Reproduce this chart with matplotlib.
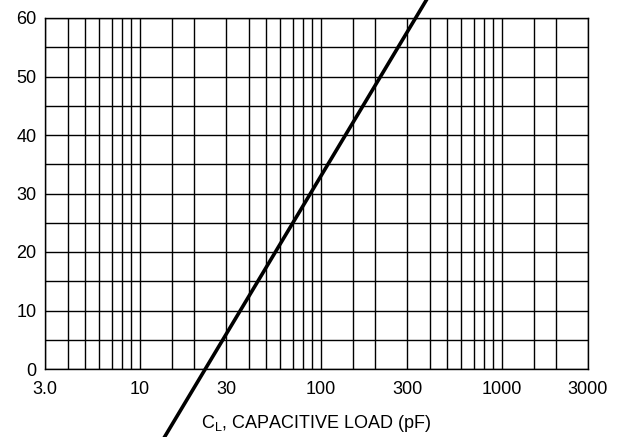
import matplotlib
matplotlib.use("Agg")
import matplotlib.pyplot as plt
from matplotlib import font_manager as fm
import numpy as np

# Data
x_ticks = [3, 10, 30, 100, 300, 1000, 3000]
x_tick_labels = ["3.0", "10", "30", "100", "300", "1000", "3000"]
x_grid = [3, 4, 5, 6, 7, 8, 9, 10, 15, 20, 30, 40, 50, 60, 70, 80, 90,
          100, 150, 200, 300, 400, 500, 600, 700, 800, 900, 1000, 1500, 2000, 3000]
y_ticks = [0, 10, 20, 30, 40, 50, 60]
y_grid = [0, 5, 10, 15, 20, 25, 30, 35, 40, 45, 50, 55, 60]
line_x = [13.5, 400]
line_y = [-12, 64]

names = {f.name for f in fm.fontManager.ttflist}
fam = "Liberation Sans Narrow" if "Liberation Sans Narrow" in names else "Liberation Sans"
plt.rcParams['font.family'] = [fam, 'DejaVu Sans']

fig = plt.figure(figsize=(6.17, 4.37), dpi=100)
W, H = 617, 437
ax = fig.add_axes([45 / W, 1 - 369 / H, (588 - 45) / W, (369 - 18) / H])
ax.set_xscale('log')
ax.set_xlim(3, 3000)
ax.set_ylim(0, 60)

for gx in x_grid:
    ax.axvline(gx, color='black', lw=1.0, zorder=1)
for gy in y_grid:
    ax.axhline(gy, color='black', lw=1.0, zorder=1)

ax.plot(line_x, line_y, color='black', lw=2.6, clip_on=False, zorder=3,
        solid_capstyle='butt')

ax.set_xticks(x_ticks)
ax.set_xticklabels(x_tick_labels)
ax.xaxis.set_minor_locator(matplotlib.ticker.NullLocator())
ax.set_yticks(y_ticks)
ax.tick_params(axis='both', length=0, labelsize=13)
ax.tick_params(axis='x', pad=9)
ax.tick_params(axis='y', pad=6)
for s in ax.spines.values():
    s.set_linewidth(1.0)
    s.set_color('black')

fig.text(316 / W, 1 - 423 / H, r"C$_\mathregular{L}$, CAPACITIVE LOAD (pF)",
         ha='center', va='center', fontsize=13)

fig.savefig("out.png", dpi=100)
